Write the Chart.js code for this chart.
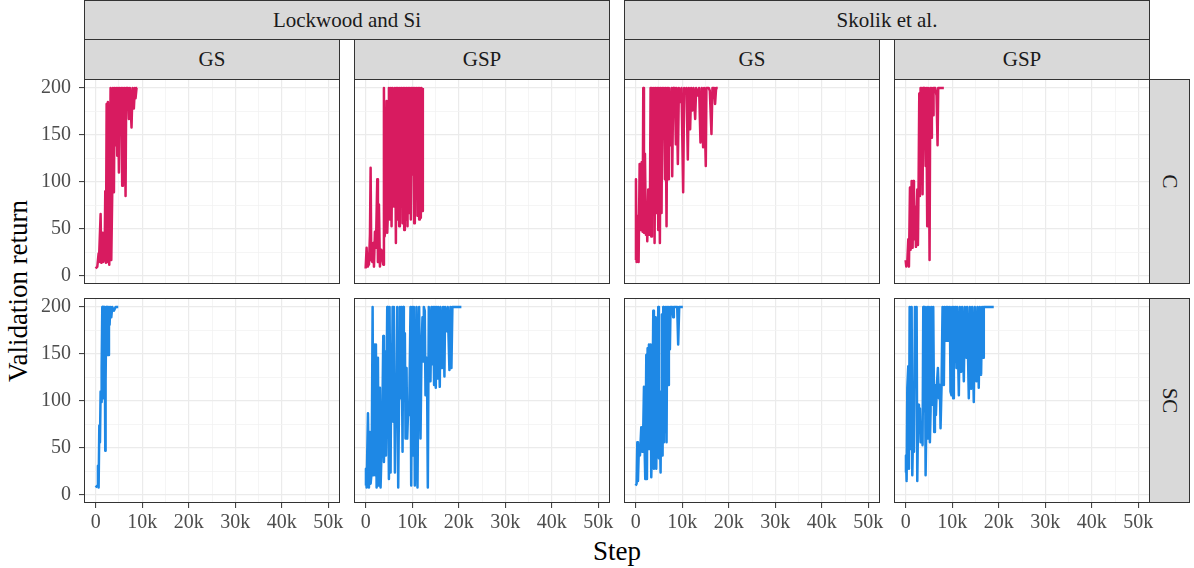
<!DOCTYPE html>
<html>
<head>
<meta charset="utf-8">
<script src="https://cdn.jsdelivr.net/npm/chart.js@4.4.0/dist/chart.umd.min.js"></script>
<style>
  body { margin: 0; background: #fff; }
  #fig { position: relative; width: 1194px; height: 568px; overflow: hidden; font-family: 'Liberation Serif', serif; }
  .strip { position: absolute; box-sizing: border-box; background: #d9d9d9; border: 1px solid #333;
           display: flex; align-items: center; justify-content: center; font-size: 21px; color: #1a1a1a;
           font-family: 'Liberation Serif', serif; }
  .strip.rot span { transform: rotate(90deg); white-space: nowrap; }
  canvas { position: absolute; }
  .title { position: absolute; font-size: 27px; color: #000; white-space: nowrap; transform: translate(-50%, -50%); }
</style>
</head>
<body>
<div id="fig">
  <div class="strip" style="left:84px;top:0;width:526px;height:40px">Lockwood and Si</div>
  <div class="strip" style="left:624px;top:0;width:526px;height:40px">Skolik et al.</div>
  <div class="strip" style="left:84px;top:39px;width:256px;height:41px">GS</div>
  <div class="strip" style="left:354px;top:39px;width:256px;height:41px">GSP</div>
  <div class="strip" style="left:624px;top:39px;width:256px;height:41px">GS</div>
  <div class="strip" style="left:894px;top:39px;width:256px;height:41px">GSP</div>
  <div class="strip rot" style="left:1149px;top:79px;width:41px;height:205px"><span>C</span></div>
  <div class="strip rot" style="left:1149px;top:298px;width:41px;height:205px"><span>SC</span></div>
  <div class="title" style="left:18px;top:291px;transform:translate(-50%,-50%) rotate(-90deg)">Validation return</div>
  <div class="title" style="left:617px;top:551px">Step</div>
</div>
<script>
// tick labels
const xTickValues = [0, 10000, 20000, 30000, 40000, 50000];
const xTickLabels = ['0', '10k', '20k', '30k', '40k', '50k'];
const xMinorValues = [5000, 15000, 25000, 35000, 45000];
const yTickValues = [0, 50, 100, 150, 200];
const yTickLabels = ['0', '50', '100', '150', '200'];
const yMinorValues = [25, 75, 125, 175];

// Lockwood and Si, GS, C
const lwGsCSteps = [0, 360, 640, 710, 1070, 1210, 1500, 1640, 1930, 2070, 2210, 2360, 2500, 2640, 2930, 3210, 3360, 3570, 3710, 3930, 4070, 4290, 4430, 4640, 4790, 5000, 5140, 5360, 5500, 5710, 5860, 6070, 6210, 6430, 6570, 6930, 7140, 7360, 7710, 7930, 8210, 8430, 8570, 8790, 8930];
const lwGsCReturn = [8, 10, 24, 15, 66, 14, 46, 15, 24, 90, 14, 183, 15, 185, 12, 200, 17, 89, 200, 89, 200, 139, 200, 128, 200, 110, 200, 153, 200, 96, 200, 146, 200, 85, 200, 200, 167, 200, 158, 200, 178, 200, 189, 200, 200];

// Lockwood and Si, GSP, C
const lwGspCSteps = [0, 210, 360, 500, 710, 930, 1070, 1210, 1430, 1640, 1790, 2000, 2210, 2500, 2640, 2860, 3070, 3360, 3570, 3790, 3930, 4070, 4290, 4500, 4640, 4860, 5000, 5210, 5430, 5570, 5790, 5930, 6070, 6290, 6500, 6640, 6790, 6930, 7070, 7210, 7360, 7570, 7710, 7930, 8070, 8290, 8430, 8640, 8790, 9000, 9140, 9360, 9500, 9710, 9860, 10070, 10210, 10430, 10570, 10790, 10930, 11140, 11290, 11500, 11640, 11860, 12000, 12140, 12290];
const lwGspCReturn = [8, 30, 10, 24, 12, 44, 115, 17, 15, 35, 10, 47, 30, 103, 15, 76, 10, 28, 21, 12, 200, 42, 51, 186, 46, 78, 200, 60, 200, 53, 200, 156, 74, 200, 35, 200, 60, 200, 110, 53, 200, 74, 200, 56, 200, 49, 200, 60, 200, 53, 200, 67, 200, 60, 200, 108, 200, 56, 200, 92, 200, 64, 200, 60, 200, 62, 200, 69, 200];

// Skolik et al., GS, C
const skGsCSteps = [0, 70, 210, 500, 640, 860, 1070, 1290, 1500, 1640, 1790, 2000, 2210, 2360, 2500, 2710, 2930, 3070, 3210, 3360, 3500, 3710, 3930, 4070, 4290, 4430, 4640, 4860, 5000, 5210, 5360, 5570, 5710, 5930, 6070, 6290, 6430, 6640, 6790, 7000, 7140, 7500, 7710, 7860, 8070, 8210, 8430, 8640, 8790, 9070, 9290, 9640, 9860, 10210, 10430, 10710, 10930, 11210, 11430, 11710, 11930, 12210, 12430, 12790, 13000, 13360, 13640, 13930, 14210, 14500, 14710, 15070, 15210, 15710, 15930, 16290, 16500, 16860, 17070, 17290, 17640];
const skGsCReturn = [17, 103, 15, 64, 15, 119, 49, 121, 47, 200, 46, 130, 44, 71, 37, 92, 44, 74, 200, 42, 200, 71, 200, 35, 200, 67, 200, 49, 200, 35, 200, 67, 200, 158, 200, 103, 200, 53, 200, 103, 200, 139, 200, 106, 200, 196, 200, 140, 200, 119, 200, 185, 200, 89, 200, 196, 200, 124, 200, 156, 200, 176, 200, 167, 200, 192, 200, 142, 200, 137, 200, 117, 200, 200, 197, 151, 200, 200, 183, 200, 200];

// Skolik et al., GSP, C
const skGspCSteps = [0, 140, 360, 570, 710, 930, 1070, 1290, 1500, 1640, 1790, 2000, 2210, 2360, 2500, 2640, 2790, 2930, 3070, 3210, 3360, 3500, 3640, 3790, 3930, 4070, 4290, 4430, 4640, 4790, 5000, 5140, 5290, 5500, 5640, 5930, 6000, 6360, 6640, 6860, 7000, 7500, 8210];
const skGspCReturn = [17, 10, 15, 39, 10, 94, 28, 101, 30, 101, 39, 74, 31, 71, 92, 33, 103, 194, 85, 200, 106, 200, 87, 200, 160, 200, 117, 200, 53, 200, 153, 17, 200, 147, 200, 171, 200, 200, 192, 139, 200, 200, 200];

// Lockwood and Si, GS, SC
const lwGsScSteps = [0, 360, 500, 640, 790, 930, 1070, 1210, 1290, 1430, 1500, 1640, 1790, 1930, 2070, 2140, 2290, 2430, 2570, 2710, 2860, 3000, 3140, 3360, 3570, 3930, 4290, 4860];
const lwGsScReturn = [8, 10, 31, 8, 74, 56, 110, 99, 135, 200, 103, 200, 103, 200, 47, 121, 200, 149, 200, 149, 200, 181, 200, 189, 200, 196, 200, 200];

// Lockwood and Si, GSP, SC
const lwGspScSteps = [0, 70, 210, 500, 710, 930, 1070, 1290, 1500, 1640, 1930, 2070, 2210, 2360, 2500, 2640, 2790, 3070, 3210, 3570, 3790, 3930, 4140, 4360, 4640, 4790, 5000, 5140, 5360, 5500, 5640, 5790, 5930, 6070, 6290, 6430, 6640, 6790, 7000, 7210, 7360, 7570, 7710, 7930, 8070, 8210, 8430, 8570, 8790, 8930, 9140, 9360, 9640, 9790, 10000, 10210, 10360, 10570, 10790, 10930, 11140, 11360, 11500, 11790, 12000, 12210, 12360, 12500, 12710, 12860, 13070, 13210, 13360, 13570, 13790, 13930, 14140, 14290, 14500, 14710, 14860, 15070, 15210, 15430, 15570, 15930, 16070, 16430, 16640, 16930, 17070, 17500, 17640, 18000, 18210, 18430, 18640, 18930, 20570];
const lwGspScReturn = [10, 28, 8, 87, 8, 67, 12, 24, 200, 21, 160, 21, 160, 8, 114, 146, 10, 114, 8, 74, 169, 35, 153, 42, 200, 153, 17, 200, 24, 142, 103, 200, 78, 200, 24, 92, 85, 200, 8, 121, 200, 103, 200, 46, 200, 114, 172, 60, 135, 60, 92, 85, 200, 10, 200, 42, 200, 10, 81, 200, 8, 153, 200, 60, 151, 189, 142, 200, 196, 106, 146, 117, 8, 200, 171, 121, 200, 139, 200, 117, 200, 114, 200, 124, 200, 115, 200, 135, 200, 126, 200, 174, 200, 133, 200, 135, 200, 200, 200];

// Skolik et al., GS, SC
const skGsScSteps = [0, 210, 360, 500, 710, 930, 1210, 1430, 1570, 1790, 1930, 2070, 2290, 2430, 2570, 2710, 2860, 3000, 3210, 3360, 3570, 3790, 3930, 4070, 4290, 4430, 4640, 4860, 5000, 5210, 5360, 5500, 5640, 5790, 5930, 6070, 6210, 6360, 6500, 6640, 6790, 7000, 7140, 7360, 7500, 7860, 8070, 8210, 8930, 9140, 9360, 10140];
const skGsScReturn = [10, 12, 56, 15, 53, 42, 72, 46, 51, 115, 49, 17, 149, 17, 156, 49, 160, 78, 160, 19, 67, 196, 28, 174, 189, 28, 114, 200, 39, 67, 24, 110, 192, 42, 200, 56, 192, 67, 200, 56, 200, 117, 200, 155, 200, 200, 189, 200, 200, 160, 200, 200];

// Skolik et al., GSP, SC
const skGspScSteps = [0, 70, 210, 360, 570, 710, 860, 1000, 1140, 1290, 1430, 1640, 1790, 2000, 2210, 2360, 2500, 2710, 2860, 3070, 3210, 3430, 3640, 3790, 3930, 4140, 4290, 4500, 4640, 4860, 5000, 5210, 5360, 5500, 5710, 5930, 6140, 6290, 6500, 6710, 6930, 7140, 7360, 7500, 7710, 7930, 8210, 8360, 8570, 8790, 8930, 9070, 9290, 9500, 9640, 9860, 10000, 10210, 10360, 10570, 10710, 10930, 11070, 11430, 11640, 11930, 12140, 12500, 12710, 13070, 13210, 13570, 13790, 14070, 14290, 14640, 14860, 15210, 15430, 15710, 15930, 16210, 16430, 16640, 16790, 17140, 18930];
const skGspScReturn = [24, 42, 15, 114, 137, 28, 200, 85, 49, 200, 21, 78, 46, 200, 128, 200, 15, 96, 67, 92, 56, 78, 53, 200, 89, 200, 21, 99, 200, 60, 200, 56, 89, 200, 96, 200, 67, 117, 85, 117, 135, 103, 117, 71, 114, 200, 117, 200, 164, 200, 164, 200, 164, 200, 110, 106, 200, 103, 200, 142, 200, 135, 200, 106, 200, 131, 200, 121, 200, 146, 200, 103, 200, 113, 200, 99, 200, 121, 200, 114, 200, 128, 200, 146, 200, 200, 200];

const lineColors = { C: '#D81B60', SC: '#1E88E5' };

const panels = [
  { col: 0, row: 0, steps: lwGsCSteps, values: lwGsCReturn, fold: 'C' },
  { col: 1, row: 0, steps: lwGspCSteps, values: lwGspCReturn, fold: 'C' },
  { col: 2, row: 0, steps: skGsCSteps, values: skGsCReturn, fold: 'C' },
  { col: 3, row: 0, steps: skGspCSteps, values: skGspCReturn, fold: 'C' },
  { col: 0, row: 1, steps: lwGsScSteps, values: lwGsScReturn, fold: 'SC' },
  { col: 1, row: 1, steps: lwGspScSteps, values: lwGspScReturn, fold: 'SC' },
  { col: 2, row: 1, steps: skGsScSteps, values: skGsScReturn, fold: 'SC' },
  { col: 3, row: 1, steps: skGspScSteps, values: skGspScReturn, fold: 'SC' }
];

// layout of the facet grid
const colLeft = [84, 354, 624, 894];
const rowTop = [79, 298];
const panelW = 256, panelH = 205;
const yAxisW = 50, xAxisH = 40, padTop = 12, padRight = 16;

const tickFont = { family: 'Liberation Serif', size: 20 };

// draws the grey panel frame on top of the lines
const panelBorder = {
  id: 'panelBorder',
  afterDraw(chart) {
    const { ctx, chartArea: a } = chart;
    ctx.save();
    ctx.strokeStyle = '#333333';
    ctx.lineWidth = 1;
    ctx.strokeRect(a.left + 0.5, a.top + 0.5, a.right - a.left - 1, a.bottom - a.top - 1);
    ctx.restore();
  }
};

const fig = document.getElementById('fig');

panels.forEach(p => {
  const hasY = p.col === 0;
  const hasX = p.row === 1;
  const w = (hasY ? yAxisW : 0) + panelW + padRight;
  const h = padTop + panelH + (hasX ? xAxisH : 0);

  const canvas = document.createElement('canvas');
  canvas.width = w;
  canvas.height = h;
  canvas.style.left = (colLeft[p.col] - (hasY ? yAxisW : 0)) + 'px';
  canvas.style.top = (rowTop[p.row] - padTop) + 'px';
  canvas.style.width = w + 'px';
  canvas.style.height = h + 'px';
  fig.appendChild(canvas);

  const isMajorX = v => xTickValues.includes(v);
  const isMajorY = v => yTickValues.includes(v);

  new Chart(canvas.getContext('2d'), {
    type: 'line',
    data: {
      datasets: [{
        data: p.steps.map((s, i) => ({ x: s, y: p.values[i] })),
        borderColor: lineColors[p.fold],
        borderWidth: 2.5,
        borderJoinStyle: 'round',
        pointRadius: 0,
        tension: 0
      }]
    },
    options: {
      responsive: false,
      animation: false,
      devicePixelRatio: 1,
      layout: { padding: { top: padTop, right: padRight, left: 0, bottom: 0 } },
      plugins: { legend: { display: false }, tooltip: { enabled: false } },
      scales: {
        x: {
          type: 'linear',
          min: -2500,
          max: 52500,
          afterBuildTicks: ax => {
            ax.ticks = [...xTickValues, ...xMinorValues].sort((a, b) => a - b).map(v => ({ value: v }));
          },
          afterFit: s => { s.height = hasX ? xAxisH : 0; s.paddingLeft = 0; s.paddingRight = 0; },
          border: { display: false },
          grid: {
            color: c => (c.tick && isMajorX(c.tick.value)) ? '#ebebeb' : '#f3f3f3',
            lineWidth: c => (c.tick && isMajorX(c.tick.value)) ? 1.2 : 0.8,
            drawTicks: hasX,
            tickLength: 5,
            tickWidth: 1,
            tickColor: c => (c.tick && isMajorX(c.tick.value)) ? '#333333' : 'rgba(0,0,0,0)'
          },
          ticks: {
            display: hasX,
            autoSkip: false,
            maxRotation: 0,
            minRotation: 0,
            padding: 3,
            color: '#4d4d4d',
            font: tickFont,
            callback: v => {
              const i = xTickValues.indexOf(v);
              return i < 0 ? '' : xTickLabels[i];
            }
          }
        },
        y: {
          type: 'linear',
          min: -8.5,
          max: 209.5,
          afterBuildTicks: ax => {
            ax.ticks = [...yTickValues, ...yMinorValues].sort((a, b) => a - b).map(v => ({ value: v }));
          },
          afterFit: s => { s.width = hasY ? yAxisW : 0; s.paddingTop = 0; s.paddingBottom = 0; },
          border: { display: false },
          grid: {
            color: c => (c.tick && isMajorY(c.tick.value)) ? '#ebebeb' : '#f3f3f3',
            lineWidth: c => (c.tick && isMajorY(c.tick.value)) ? 1.2 : 0.8,
            drawTicks: hasY,
            tickLength: 5,
            tickWidth: 1,
            tickColor: c => (c.tick && isMajorY(c.tick.value)) ? '#333333' : 'rgba(0,0,0,0)'
          },
          ticks: {
            display: hasY,
            autoSkip: false,
            padding: 8,
            color: '#4d4d4d',
            font: tickFont,
            callback: v => {
              const i = yTickValues.indexOf(v);
              return i < 0 ? '' : yTickLabels[i];
            }
          }
        }
      }
    },
    plugins: [panelBorder]
  });
});
</script>
</body>
</html>
